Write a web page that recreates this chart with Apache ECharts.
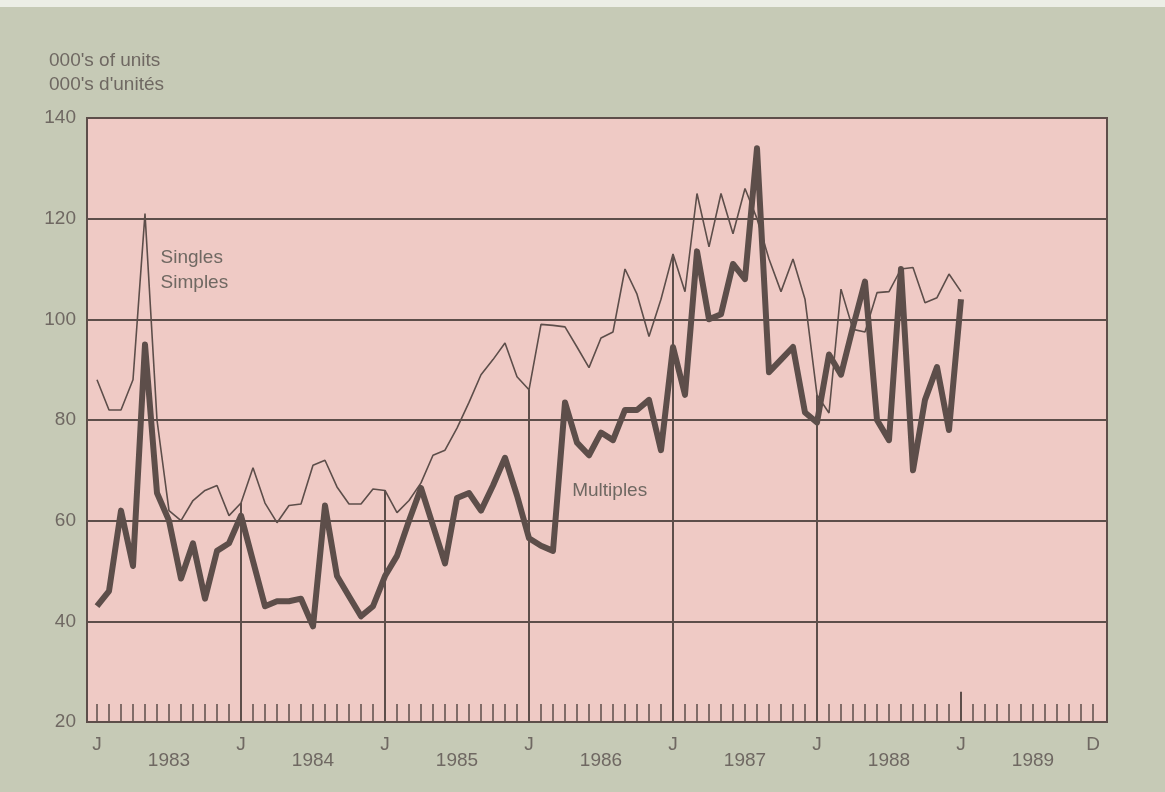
<!DOCTYPE html>
<html>
<head>
<meta charset="utf-8">
<script src="https://cdn.jsdelivr.net/npm/echarts/dist/echarts.min.js"></script>
<style>
  html, body { margin: 0; padding: 0; background: #c6cab6; }
  #chart { width: 1165px; height: 792px; }
  #strip { position: absolute; left: 0; top: 0; width: 1165px; height: 7px; background: #eceee6; }
</style>
</head>
<body>
<div id="chart"></div>
<div id="strip"></div>
<script>
// Months counted from January 1983 (0) ; data run Jan 1983 .. Jan 1989
const multiples = [
  43, 46, 62, 51, 95, 65.5, 60, 48.5, 55.5, 44.5, 54, 55.5,      // 1983
  61, 52, 43, 44, 44, 44.5, 39, 63, 49, 45, 41, 43,              // 1984
  49, 53, 60, 66.5, 59, 51.5, 64.5, 65.5, 62, 67, 72.5, 65,      // 1985
  56.5, 55, 54, 83.5, 75.5, 73, 77.5, 76, 82, 82, 84, 74,        // 1986
  94.5, 85, 113.5, 100, 101, 111, 108, 134, 89.5, 92, 94.5, 81.5,// 1987
  79.5, 93, 89, 98.5, 107.5, 80, 76, 110, 70, 84, 90.5, 78,      // 1988
  104                                                            // Jan 1989
];
const singles = [
  88, 82, 82, 88, 121, 80, 62, 60, 64, 66, 67, 61,               // 1983
  63.5, 70.5, 63.5, 59.6, 63, 63.3, 71, 72, 66.7, 63.3, 63.3, 66.3, // 1984
  66, 61.6, 64, 67.5, 73, 74, 78.4, 83.5, 89, 92, 95.3, 88.6,    // 1985
  86, 99, 98.8, 98.5, 94.5, 90.4, 96.3, 97.5, 110, 105, 96.6, 104, // 1986
  113, 105.5, 125, 114.4, 125, 117, 126, 120, 112, 105.5, 112, 104, // 1987
  85, 81.4, 106, 98, 97.5, 105.3, 105.5, 110, 110.3, 103.3, 104.3, 109, // 1988
  105.5                                                          // Jan 1989
];
const monthTicks = Array.from({length: 84}, (_, i) => i);          // Jan 1983 .. Dec 1989
const monthLabelPos = [0, 12, 24, 36, 48, 60, 72, 83];
const monthLabels = ['J', 'J', 'J', 'J', 'J', 'J', 'J', 'D'];
const years = ['1983', '1984', '1985', '1986', '1987', '1988', '1989'];
const yearLinePos = [12, 24, 36, 48, 60];
const yearTickPos = 72;
const yearTickTop = 26;
const yMin = 20, yMax = 140, yStep = 20;
const unitLabel = "000's of units\n000's d'unités";
const singlesLabel = 'Singles\nSimples';
const multiplesLabel = 'Multiples';

const INK = '#5d4e4a';
const TEXT = '#6f6862';
const FONT = '"Liberation Sans", Arial, sans-serif';
const FS = 19;
const xMin = -0.833, xMax = 84.167;

const chart = echarts.init(document.getElementById('chart'), null, {renderer: 'canvas'});

const yearCenters = years.map((_, k) => k * 12 + 6);
const dropLines = yearLinePos.map(m => [{coord: [m, yMin]}, {coord: [m, singles[m]]}]);
dropLines.push([{coord: [yearTickPos, yMin]}, {coord: [yearTickPos, yearTickTop]}]);

chart.setOption({
  backgroundColor: '#c6cab6',
  animation: false,
  title: {
    text: unitLabel,
    left: 44, top: 44,
    textStyle: {fontFamily: FONT, fontSize: FS, fontWeight: 'normal', color: TEXT, lineHeight: 24}
  },
  grid: {
    left: 87, right: 58, top: 118, bottom: 70,
    show: true, backgroundColor: '#efcac5', borderColor: INK, borderWidth: 2
  },
  xAxis: [{
    type: 'value', min: xMin, max: xMax,
    axisLine: {show: true, lineStyle: {color: INK, width: 2}},
    axisTick: {show: true, inside: true, length: 18, customValues: monthTicks, lineStyle: {color: INK, width: 1.5}},
    axisLabel: {
      show: true, customValues: monthLabelPos, margin: 13,
      formatter: v => monthLabels[monthLabelPos.indexOf(Math.round(v))] || '',
      fontFamily: FONT, fontSize: FS, color: TEXT
    },
    splitLine: {show: false}
  }, {
    type: 'value', min: xMin, max: xMax, position: 'bottom',
    axisLine: {show: false}, axisTick: {show: false},
    axisLabel: {
      show: true, customValues: yearCenters, margin: 29,
      formatter: v => years[Math.round((v - 6) / 12)] || '',
      fontFamily: FONT, fontSize: FS, color: TEXT
    },
    splitLine: {show: false}
  }],
  yAxis: {
    type: 'value', min: yMin, max: yMax, interval: yStep,
    axisLine: {show: false}, axisTick: {show: false},
    axisLabel: {margin: 11, fontFamily: FONT, fontSize: FS, color: TEXT},
    splitLine: {show: true, lineStyle: {color: INK, width: 2}}
  },
  series: [{
    name: 'Singles', type: 'line',
    data: singles.map((v, i) => [i, v]),
    symbol: 'none', lineStyle: {color: INK, width: 1.6}, z: 3,
    markLine: {
      silent: true, symbol: 'none', label: {show: false},
      lineStyle: {color: INK, width: 2, type: 'solid'},
      data: dropLines
    },
    markPoint: {
      silent: true, symbol: 'circle', symbolSize: 0,
      label: {show: true, position: 'right', distance: 0, align: 'left',
        formatter: singlesLabel, fontFamily: FONT, fontSize: FS, color: TEXT, lineHeight: 25},
      data: [{coord: [5.3, 109.8]}]
    }
  }, {
    name: 'Multiples', type: 'line',
    data: multiples.map((v, i) => [i, v]),
    symbol: 'none', lineStyle: {color: INK, width: 6, join: 'round'}, z: 4,
    markPoint: {
      silent: true, symbol: 'circle', symbolSize: 0,
      label: {show: true, position: 'right', distance: 0, align: 'left',
        formatter: multiplesLabel, fontFamily: FONT, fontSize: FS, color: TEXT},
      data: [{coord: [39.6, 66]}]
    }
  }]
});
</script>
</body>
</html>
